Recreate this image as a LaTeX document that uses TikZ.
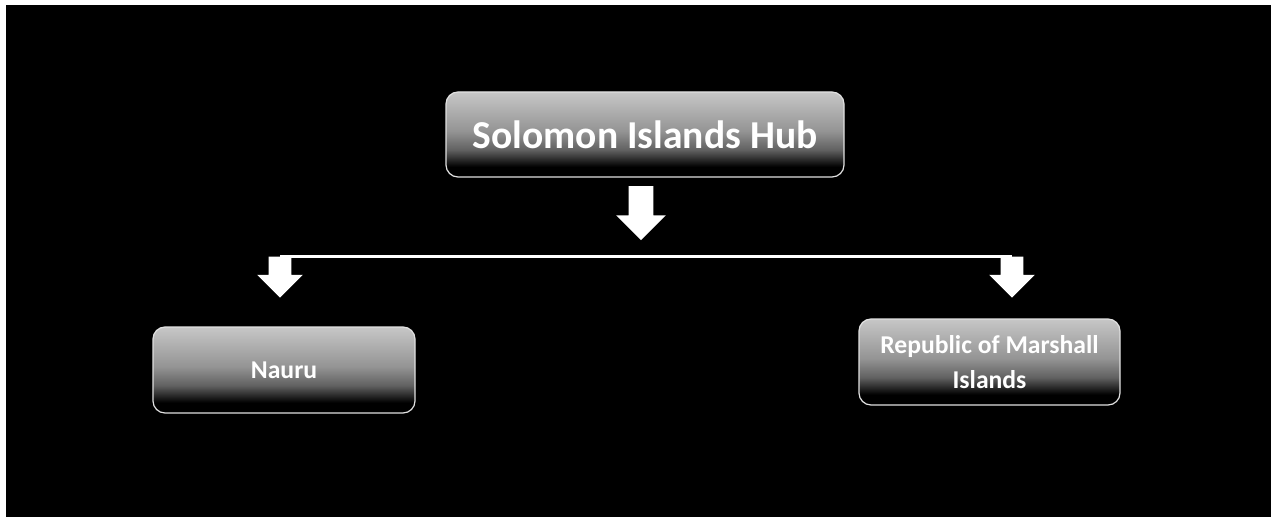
\documentclass[tikz,border=0pt]{standalone}
\usepackage{fontspec}
\setmainfont{Carlito}
\usepackage{tikz}
\usetikzlibrary{shapes.arrows}
\pgfdeclareverticalshading{islandshade}{100bp}{color(0bp)=(black); color(31bp)=(black); color(41bp)=(black!62); color(52bp)=(black!42); color(75bp)=(black!22); color(100bp)=(black!22)}
\tikzstyle{islandbox} = [rectangle, rounded corners=0.24cm, draw=black!12, line width=0.7pt, shading=islandshade, text=white, align=center, font=\bfseries]
\tikzstyle{blockarrow} = [single arrow, fill=white, draw=none, rotate=-90, inner sep=0.22cm, single arrow head extend=0.23cm]
\tikzstyle{hubline} = [white, line width=0.05cm]

\begin{document}
\begin{tikzpicture}
    % page and black panel
    \useasboundingbox (0,0) rectangle (25.46,-10.34);
    \fill[white] (0,0) rectangle (25.46,-10.34);
    \fill[black] (0.12,-0.10) rectangle (25.42,-10.34);

    % Hub
    \node[islandbox, minimum width=7.96cm, minimum height=1.70cm, font=\fontsize{22.5}{27}\selectfont\bfseries] (hub) at (12.9,-2.69) {Solomon Islands Hub};

    % Islands
    \node[islandbox, minimum width=5.24cm, minimum height=1.72cm, font=\fontsize{14.6}{19.9}\selectfont\bfseries] (nauru) at (5.68,-7.40) {Nauru};
    \node[islandbox, minimum width=5.22cm, minimum height=1.72cm, font=\fontsize{14.6}{19.9}\selectfont\bfseries] (rmi) at (19.79,-7.24) {Republic of Marshall\\Islands};

    % Arrows
    \node[blockarrow, minimum height=1.08cm, inner sep=0.24cm, single arrow head extend=0.25cm] (hubarr) at (12.82,-4.14) {};
    \node[blockarrow, minimum height=0.82cm] (narr) at (5.60,-5.43) {};
    \node[blockarrow, minimum height=0.82cm] (rarr) at (20.24,-5.43) {};
    \draw[hubline] (narr.tail) -- (rarr.tail);
\end{tikzpicture}
\end{document}
